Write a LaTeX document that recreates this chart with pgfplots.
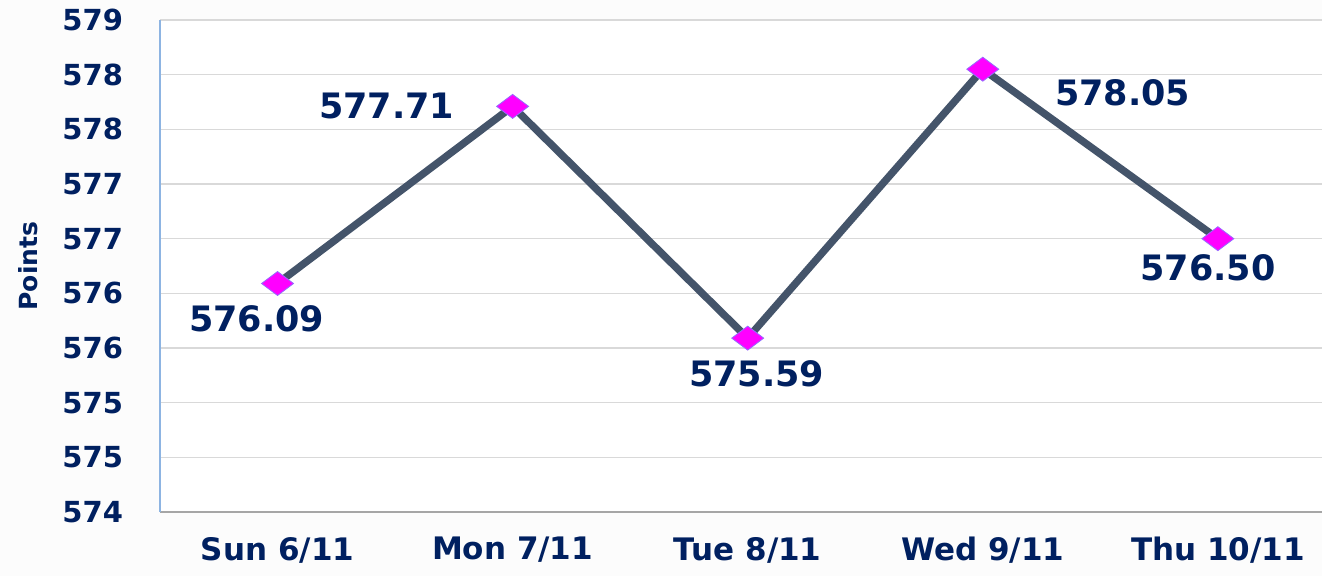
\documentclass[border=0pt]{standalone}
\usepackage{pgfplots}
\pgfplotsset{compat=1.18}
\usepackage{pgfplotstable}
\usepackage{fontspec}
\setmainfont{DejaVu Sans}
\definecolor{navy}{RGB}{0,32,96}
\definecolor{linec}{RGB}{68,84,106}
\definecolor{gridc}{RGB}{217,217,217}
\definecolor{yaxisc}{RGB}{141,180,226}
\definecolor{xaxisc}{RGB}{166,166,166}
\definecolor{bgc}{RGB}{252,252,252}
\definecolor{markedge}{RGB}{150,110,255}
\definecolor{markfill}{RGB}{255,0,255}

\pgfplotstableread{
x y dx dy lab
0 576.09 -10.5 -17.5 576.09
1 577.71 -63 0 577.71
2 575.59 4.5 -18 575.59
3 578.05 70 -12 578.05
4 576.50 -5 -14.5 576.50
}\data

\begin{document}
\begin{tikzpicture}
\fill[bgc] (-80pt,-32pt) rectangle (581pt,256pt);
\begin{axis}[
  at={(0,0)}, anchor=south west,
  scale only axis, width=581pt, height=246pt,
  xmin=-0.5, xmax=4.443, ymin=574, ymax=578.5,
  ytick={574,574.5,575,575.5,576,576.5,577,577.5,578,578.5},
  yticklabels={574,575,575,576,576,577,577,578,578,579},
  xtick={0,1,2,3,4},
  xticklabels={Sun 6/11,Mon 7/11,Tue 8/11,Wed 9/11,Thu 10/11},
  ymajorgrids, grid style={draw=gridc, line width=0.6pt},
  axis x line*=bottom, axis y line*=left,
  x axis line style={draw=xaxisc, line width=0.8pt},
  y axis line style={draw=yaxisc, line width=0.8pt},
  major tick length=0pt,
  axis background/.style={fill=white},
  yticklabel style={font=\fontsize{14.5}{16}\selectfont\bfseries, text=navy, xshift=-15pt},
  xticklabel style={font=\fontsize{15.5}{17}\selectfont\bfseries, text=navy, yshift=-9pt},
  ylabel={Points},
  every axis y label/.style={at={([xshift=-66pt]axis description cs:0,0.5)}, rotate=90, anchor=center, font=\fontsize{12.5}{14}\selectfont\bfseries, text=navy},
  clip=false,
]
\addplot[
  color=linec, line width=3.7pt,
  mark=diamond*, mark size=8pt,
  mark options={rotate=90, fill=markfill, draw=markedge, line width=0.4pt},
  point meta=explicit symbolic,
  visualization depends on={\thisrow{dx}\as\dx},
  visualization depends on={\thisrow{dy}\as\dy},
  nodes near coords,
  nodes near coords style={font=\fontsize{17.5}{19}\selectfont\bfseries, text=navy, anchor=center, xshift=\dx pt, yshift=\dy pt},
] table[x=x, y=y, meta=lab] {\data};
\end{axis}
\pgfresetboundingbox
\useasboundingbox (-80pt,-32pt) rectangle (581pt,256pt);
\end{tikzpicture}
\end{document}
